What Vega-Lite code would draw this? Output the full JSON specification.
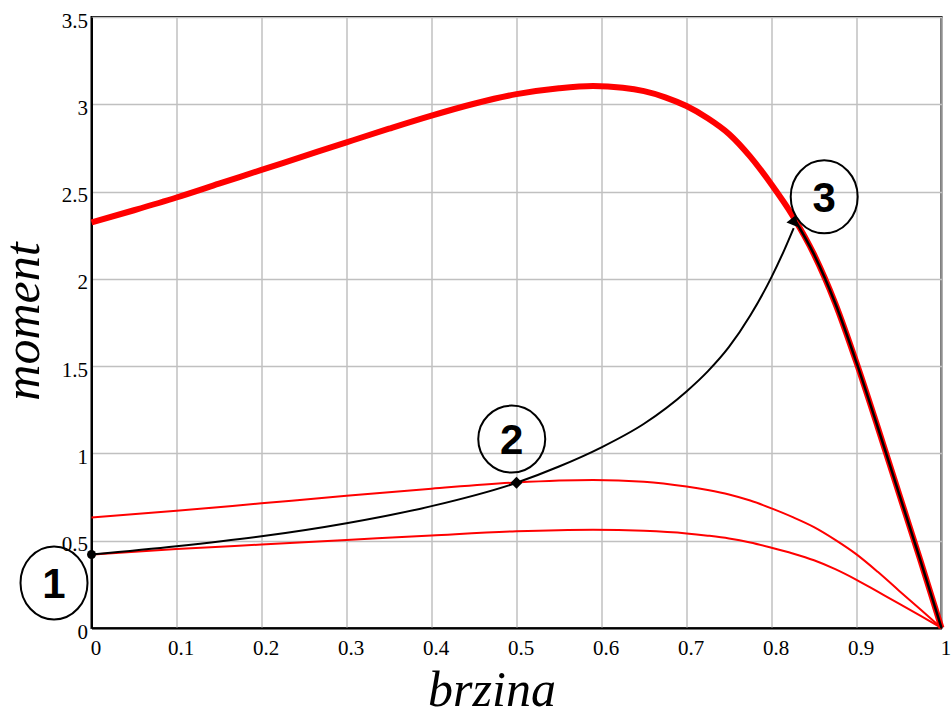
{
  "$schema": "https://vega.github.io/schema/vega-lite/v6.json",
  "width": 850,
  "height": 611,
  "autosize": "none",
  "padding": {"left": 91.5, "top": 17, "right": 9.5, "bottom": 86},
  "background": "white",
  "config": {
    "view": {"stroke": "black", "strokeWidth": 2},
    "style": {
      "guide-label": {"font": "Liberation Serif", "fontSize": 21, "fill": "black"},
      "guide-title": {"font": "Liberation Serif", "fontSize": 50, "fontStyle": "italic", "fontWeight": "normal", "fill": "black"}
    },
    "axis": {
      "grid": true,
      "gridColor": "#c0c0c0",
      "gridWidth": 1.5,
      "domainColor": "black",
      "domainWidth": 2,
      "ticks": false,
      "tickSize": 0,
      "labelFont": "Liberation Serif",
      "labelFontSize": 21,
      "labelColor": "black"
    }
  },
  "datasets": {
    "curves": [
      {"c": "A", "x": 0, "y": 2.323},
      {"c": "A", "x": 0.05, "y": 2.393},
      {"c": "A", "x": 0.1, "y": 2.466},
      {"c": "A", "x": 0.15, "y": 2.545},
      {"c": "A", "x": 0.2, "y": 2.624},
      {"c": "A", "x": 0.25, "y": 2.703},
      {"c": "A", "x": 0.3, "y": 2.782},
      {"c": "A", "x": 0.35, "y": 2.86},
      {"c": "A", "x": 0.4, "y": 2.935},
      {"c": "A", "x": 0.45, "y": 3.003},
      {"c": "A", "x": 0.5, "y": 3.058},
      {"c": "A", "x": 0.55, "y": 3.092},
      {"c": "A", "x": 0.59, "y": 3.105},
      {"c": "A", "x": 0.625, "y": 3.095},
      {"c": "A", "x": 0.65, "y": 3.075},
      {"c": "A", "x": 0.675, "y": 3.04},
      {"c": "A", "x": 0.7, "y": 2.99},
      {"c": "A", "x": 0.725, "y": 2.92},
      {"c": "A", "x": 0.75, "y": 2.83},
      {"c": "A", "x": 0.775, "y": 2.7},
      {"c": "A", "x": 0.8, "y": 2.54},
      {"c": "A", "x": 0.825, "y": 2.36},
      {"c": "A", "x": 0.85, "y": 2.14},
      {"c": "A", "x": 0.875, "y": 1.86},
      {"c": "A", "x": 0.9, "y": 1.52},
      {"c": "A", "x": 0.925, "y": 1.15},
      {"c": "A", "x": 0.95, "y": 0.77},
      {"c": "A", "x": 0.975, "y": 0.39},
      {"c": "A", "x": 1.0, "y": 0},
      {"c": "B", "x": 0, "y": 0.633},
      {"c": "B", "x": 0.1, "y": 0.671},
      {"c": "B", "x": 0.2, "y": 0.714},
      {"c": "B", "x": 0.3, "y": 0.757},
      {"c": "B", "x": 0.4, "y": 0.798},
      {"c": "B", "x": 0.5, "y": 0.834},
      {"c": "B", "x": 0.59, "y": 0.848},
      {"c": "B", "x": 0.65, "y": 0.838},
      {"c": "B", "x": 0.7, "y": 0.81},
      {"c": "B", "x": 0.725, "y": 0.79},
      {"c": "B", "x": 0.75, "y": 0.765},
      {"c": "B", "x": 0.775, "y": 0.73},
      {"c": "B", "x": 0.8, "y": 0.685},
      {"c": "B", "x": 0.825, "y": 0.635},
      {"c": "B", "x": 0.85, "y": 0.578},
      {"c": "B", "x": 0.875, "y": 0.505},
      {"c": "B", "x": 0.9, "y": 0.422},
      {"c": "B", "x": 0.925, "y": 0.322},
      {"c": "B", "x": 0.95, "y": 0.214},
      {"c": "B", "x": 0.975, "y": 0.108},
      {"c": "B", "x": 1.0, "y": 0},
      {"c": "C", "x": 0, "y": 0.421},
      {"c": "C", "x": 0.1, "y": 0.452},
      {"c": "C", "x": 0.2, "y": 0.478},
      {"c": "C", "x": 0.3, "y": 0.504},
      {"c": "C", "x": 0.4, "y": 0.53},
      {"c": "C", "x": 0.5, "y": 0.554},
      {"c": "C", "x": 0.59, "y": 0.563},
      {"c": "C", "x": 0.65, "y": 0.557},
      {"c": "C", "x": 0.7, "y": 0.542},
      {"c": "C", "x": 0.725, "y": 0.529},
      {"c": "C", "x": 0.75, "y": 0.513},
      {"c": "C", "x": 0.775, "y": 0.49},
      {"c": "C", "x": 0.8, "y": 0.46},
      {"c": "C", "x": 0.825, "y": 0.427},
      {"c": "C", "x": 0.85, "y": 0.388},
      {"c": "C", "x": 0.875, "y": 0.337},
      {"c": "C", "x": 0.9, "y": 0.276},
      {"c": "C", "x": 0.925, "y": 0.208},
      {"c": "C", "x": 0.95, "y": 0.14},
      {"c": "C", "x": 0.975, "y": 0.071},
      {"c": "C", "x": 1.0, "y": 0},
      {"c": "D", "x": 0, "y": 0.421},
      {"c": "D", "x": 0.1, "y": 0.468},
      {"c": "D", "x": 0.2, "y": 0.525},
      {"c": "D", "x": 0.3, "y": 0.6},
      {"c": "D", "x": 0.4, "y": 0.698},
      {"c": "D", "x": 0.5, "y": 0.832},
      {"c": "D", "x": 0.55, "y": 0.925},
      {"c": "D", "x": 0.6, "y": 1.035},
      {"c": "D", "x": 0.65, "y": 1.17},
      {"c": "D", "x": 0.7, "y": 1.355},
      {"c": "D", "x": 0.725, "y": 1.47},
      {"c": "D", "x": 0.75, "y": 1.61},
      {"c": "D", "x": 0.775, "y": 1.79},
      {"c": "D", "x": 0.8, "y": 2.01},
      {"c": "D", "x": 0.815, "y": 2.165},
      {"c": "D", "x": 0.826, "y": 2.29},
      {"c": "E", "x": 0.826, "y": 2.35},
      {"c": "E", "x": 0.85, "y": 2.14},
      {"c": "E", "x": 0.875, "y": 1.86},
      {"c": "E", "x": 0.9, "y": 1.52},
      {"c": "E", "x": 0.925, "y": 1.15},
      {"c": "E", "x": 0.95, "y": 0.77},
      {"c": "E", "x": 0.975, "y": 0.39},
      {"c": "E", "x": 1.0, "y": 0}
    ],
    "labels": [
      {"n": "1", "x": -0.0441, "y": 0.258},
      {"n": "2", "x": 0.4944, "y": 1.082},
      {"n": "3", "x": 0.862, "y": 2.47}
    ]
  },
  "encoding": {
    "x": {
      "field": "x",
      "type": "quantitative",
      "scale": {"domain": [0, 1], "nice": false, "zero": false},
      "axis": {
        "values": [0, 0.1, 0.2, 0.3, 0.4, 0.5, 0.6, 0.7, 0.8, 0.9, 1],
        "format": "~f",
        "title": "brzina",
        "labelFont": "Liberation Serif",
        "labelFontSize": 21,
        "labelColor": "black",
        "labelFlush": false,
        "labelOverlap": false,
        "labelBound": false,
        "labelPadding": 9,
        "labelOffset": 4,
        "titleFont": "Liberation Serif",
        "titleFontSize": 50,
        "titleFontStyle": "italic",
        "titleFontWeight": "normal",
        "titleColor": "black",
        "titleX": 400,
        "titleY": 77,
        "titleAlign": "center",
        "titleBaseline": "alphabetic"
      }
    },
    "y": {
      "field": "y",
      "type": "quantitative",
      "scale": {"domain": [0, 3.5], "nice": false, "zero": false},
      "axis": {
        "values": [0, 0.5, 1, 1.5, 2, 2.5, 3, 3.5],
        "format": "~f",
        "title": "moment",
        "labelFont": "Liberation Serif",
        "labelFontSize": 21,
        "labelColor": "black",
        "labelFlush": false,
        "labelOverlap": false,
        "labelBound": false,
        "labelPadding": 4,
        "labelOffset": 4,
        "titleFont": "Liberation Serif",
        "titleFontSize": 50,
        "titleFontStyle": "italic",
        "titleFontWeight": "normal",
        "titleColor": "black",
        "titleAngle": -90,
        "titleX": -53,
        "titleY": 304,
        "titleAlign": "center",
        "titleBaseline": "alphabetic"
      }
    }
  },
  "layer": [
    {
      "data": {"name": "curves"},
      "transform": [{"filter": "datum.c === 'A'"}],
      "mark": {"type": "line", "color": "#ff0000", "strokeWidth": 6, "interpolate": "monotone"}
    },
    {
      "data": {"name": "curves"},
      "transform": [{"filter": "datum.c === 'B'"}],
      "mark": {"type": "line", "color": "#ff0000", "strokeWidth": 2, "interpolate": "monotone"}
    },
    {
      "data": {"name": "curves"},
      "transform": [{"filter": "datum.c === 'C'"}],
      "mark": {"type": "line", "color": "#ff0000", "strokeWidth": 2, "interpolate": "monotone"}
    },
    {
      "data": {"name": "curves"},
      "transform": [{"filter": "datum.c === 'D'"}],
      "mark": {"type": "line", "color": "black", "strokeWidth": 2, "interpolate": "monotone"}
    },
    {
      "data": {"name": "curves"},
      "transform": [{"filter": "datum.c === 'E'"}],
      "mark": {"type": "line", "color": "black", "strokeWidth": 2.5, "interpolate": "monotone"}
    },
    {
      "data": {"values": [{"x": 0, "y": 0.421}]},
      "mark": {"type": "point", "shape": "circle", "filled": true, "color": "black", "size": 80, "opacity": 1}
    },
    {
      "data": {"values": [{"x": 0.5, "y": 0.832}]},
      "mark": {"type": "point", "shape": "diamond", "filled": true, "color": "black", "size": 140, "opacity": 1}
    },
    {
      "data": {"values": [{"x": 0.8266, "y": 2.338}]},
      "mark": {"type": "point", "shape": "triangle-up", "filled": true, "color": "black", "size": 150, "angle": 22, "opacity": 1}
    },
    {
      "data": {"name": "labels"},
      "transform": [{"filter": "datum.n !== '2'"}],
      "mark": {"type": "point", "shape": "M-1,0A1,1.09 0 1,1 1,0A1,1.09 0 1,1 -1,0Z", "filled": false, "stroke": "black", "strokeWidth": 2, "size": 4489, "opacity": 1}
    },
    {
      "data": {"name": "labels"},
      "transform": [{"filter": "datum.n === '2'"}],
      "mark": {"type": "point", "shape": "M-1,0A1,1 0 1,1 1,0A1,1 0 1,1 -1,0Z", "filled": false, "stroke": "black", "strokeWidth": 2, "size": 4489, "opacity": 1}
    },
    {
      "data": {"name": "labels"},
      "mark": {"type": "text", "font": "Liberation Sans", "fontWeight": "bold", "fontSize": 42, "color": "black", "align": "center", "baseline": "alphabetic", "dy": 15},
      "encoding": {"text": {"field": "n"}}
    }
  ]
}
